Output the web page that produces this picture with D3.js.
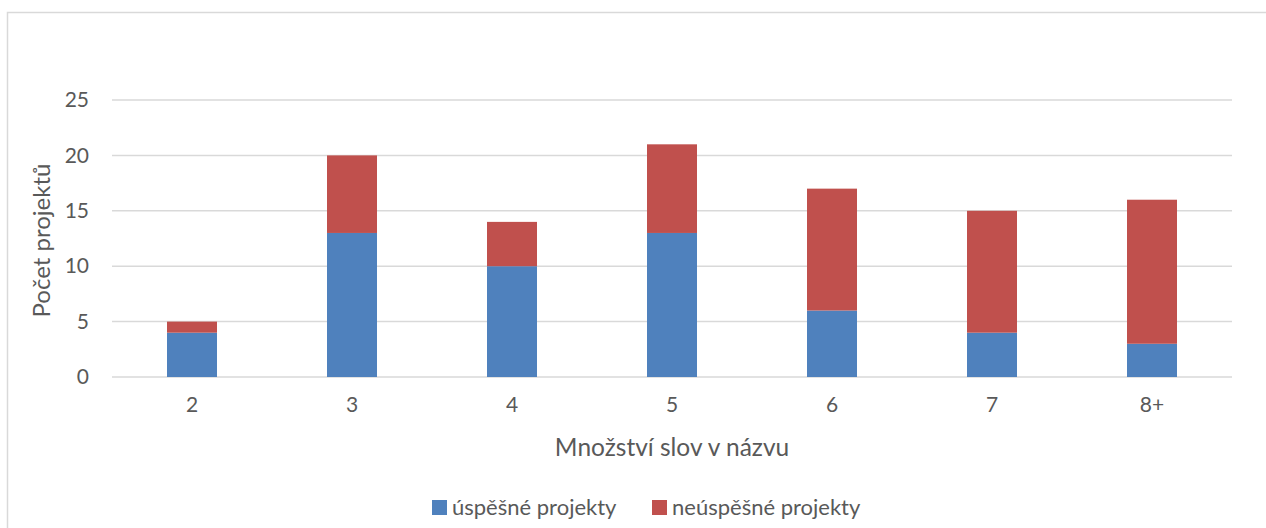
<!DOCTYPE html>
<html>
<head>
<meta charset="utf-8">
<script src="https://cdn.jsdelivr.net/npm/d3@7"></script>
<style>
  html, body { margin: 0; padding: 0; background: #fff; }
  svg { display: block; font-family: Lato, "Open Sans", sans-serif; }
</style>
</head>
<body>
<svg id="chart" width="1266" height="528"></svg>
<script>
// Number of words in the project name
const categories = ["2", "3", "4", "5", "6", "7", "8+"];
// Successful projects per category
const successful = [4, 13, 10, 13, 6, 4, 3];
// Unsuccessful projects per category
const unsuccessful = [1, 7, 4, 8, 11, 11, 13];
const yTicks = [0, 5, 10, 15, 20, 25];
const seriesNames = ["úspěšné projekty", "neúspěšné projekty"];
const seriesColors = ["#4F81BD", "#C0504D"];

const svg = d3.select("#chart");
const W = 1266, H = 528;
const plot = { left: 112, right: 1232, top: 100, bottom: 377 };
const textColor = "#595959";

// Outer chart frame (extends past the window on the right and bottom)
svg.append("rect")
  .attr("x", 7.5).attr("y", 12.5)
  .attr("width", W + 20).attr("height", H + 20)
  .attr("fill", "none").attr("stroke", "#D9D9D9").attr("stroke-width", 1.5);

const x = d3.scaleBand()
  .domain(categories)
  .range([plot.left, plot.right])
  .paddingInner(0.6875)
  .paddingOuter(0.34375);

const y = d3.scaleLinear()
  .domain([0, 25])
  .range([plot.bottom, plot.top]);

// Horizontal gridlines
svg.append("g")
  .selectAll("line")
  .data(yTicks)
  .join("line")
  .attr("x1", plot.left).attr("x2", plot.right)
  .attr("y1", d => y(d)).attr("y2", d => y(d))
  .attr("stroke", "#D9D9D9").attr("stroke-width", 1.5);

// Y axis tick labels
const yAxis = d3.axisLeft(y).tickValues(yTicks).tickSize(0).tickPadding(23);
svg.append("g")
  .attr("transform", `translate(${plot.left},0)`)
  .call(yAxis)
  .call(g => g.select(".domain").remove())
  .call(g => g.selectAll("text")
    .attr("fill", textColor)
    .attr("font-size", 21)
    .attr("font-family", "Lato, 'Open Sans', sans-serif"));

// X axis tick labels
const xAxis = d3.axisBottom(x).tickSize(0).tickPadding(20);
svg.append("g")
  .attr("transform", `translate(0,${plot.bottom})`)
  .call(xAxis)
  .call(g => g.select(".domain").remove())
  .call(g => g.selectAll("text")
    .attr("fill", textColor)
    .attr("font-size", 21)
    .attr("font-family", "Lato, 'Open Sans', sans-serif"));

// Stacked bars
const rows = categories.map((c, i) => ({ cat: c, s: successful[i], u: unsuccessful[i] }));
const stack = d3.stack().keys(["s", "u"]);
const layers = stack(rows);

svg.append("g")
  .selectAll("g")
  .data(layers)
  .join("g")
  .attr("fill", (d, i) => seriesColors[i])
  .selectAll("rect")
  .data(d => d)
  .join("rect")
  .attr("x", d => x(d.data.cat))
  .attr("width", x.bandwidth())
  .attr("y", d => y(d[1]))
  .attr("height", d => y(d[0]) - y(d[1]));

// Axis titles
svg.append("text")
  .attr("x", (plot.left + plot.right) / 2)
  .attr("y", 456)
  .attr("text-anchor", "middle")
  .attr("fill", textColor)
  .attr("font-size", 24.5)
  .text("Množství slov v názvu");

svg.append("text")
  .attr("transform", `translate(50,${(plot.top + plot.bottom) / 2 + 2}) rotate(-90)`)
  .attr("text-anchor", "middle")
  .attr("fill", textColor)
  .attr("font-size", 24)
  .text("Počet projektů");

// Legend
const legendItems = [
  { name: seriesNames[0], color: seriesColors[0], x: 432 },
  { name: seriesNames[1], color: seriesColors[1], x: 652 }
];
const lg = svg.append("g").selectAll("g").data(legendItems).join("g")
  .attr("transform", d => `translate(${d.x},500)`);
lg.append("rect")
  .attr("width", 15).attr("height", 15)
  .attr("fill", d => d.color);
lg.append("text")
  .attr("x", 20).attr("y", 15)
  .attr("fill", textColor)
  .attr("font-size", 22)
  .text(d => d.name);
</script>
</body>
</html>
